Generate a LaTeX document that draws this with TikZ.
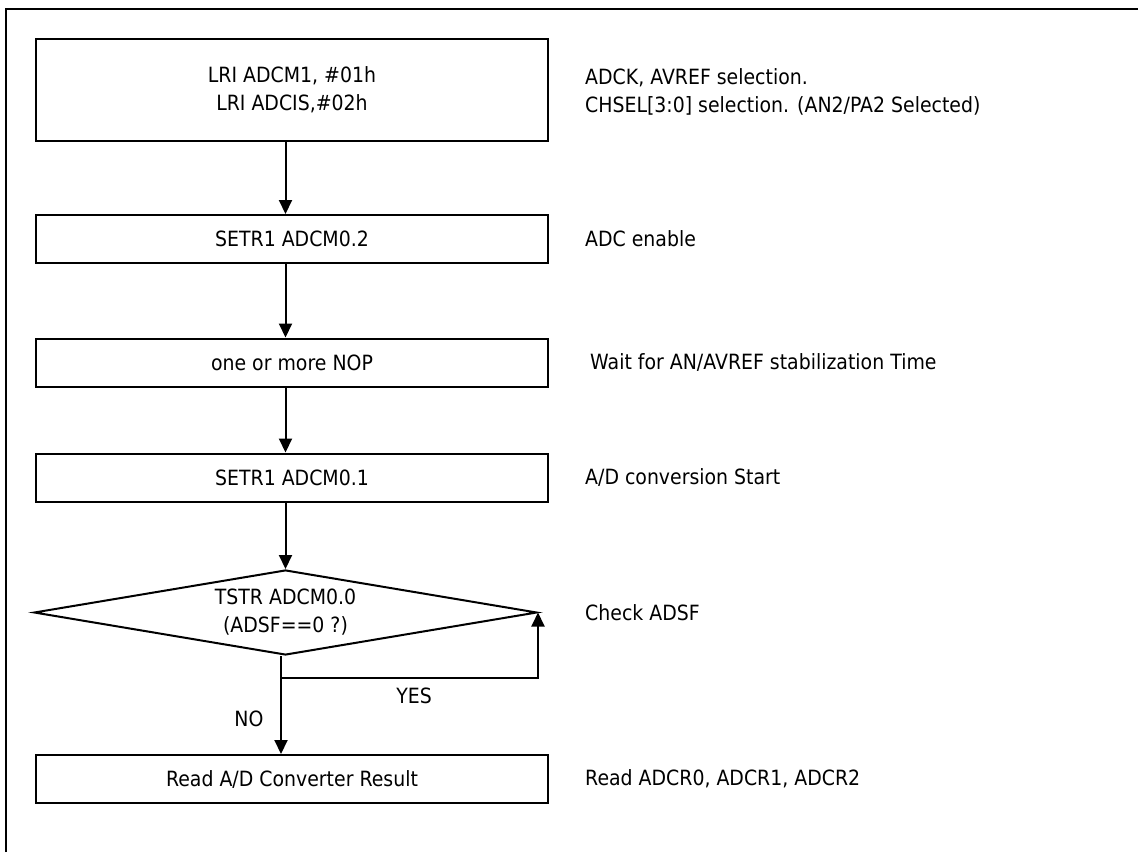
\documentclass[tikz,border=0pt]{standalone}
\usepackage{fontspec}
\setmainfont{DejaVu Sans}[FakeStretch=0.9]
\usetikzlibrary{arrows.meta,shapes.geometric}
\begin{document}
\begin{tikzpicture}[x=1pt,y=-1pt,
  every node/.style={font=\fontsize{21}{28}\selectfont},
  stepbox/.style={draw,line width=2pt,minimum width=512pt,minimum height=48pt,inner sep=0pt,align=center},
  note/.style={anchor=west,align=left,inner sep=0pt},
  arr/.style={line width=2pt,-{Triangle[length=14pt,width=13pt]}},
  lbl/.style={inner sep=0pt}]
\useasboundingbox (0,0) rectangle (1138,852);
% outer frame (clipped at right and bottom)
\coordinate (fr) at (6,9);
\draw[line width=2pt] (fr |- 0,852) -- (fr) -- (1138,9);
% boxes
\node[stepbox,minimum height=102pt] (b1) at (292,90) {LRI ADCM1, \#01h\\LRI ADCIS,\#02h};
\node[stepbox] (b2) at (292,239) {SETR1 ADCM0.2};
\node[stepbox] (b3) at (292,362.5) {one or more NOP};
\node[stepbox] (b4) at (292,477.5) {SETR1 ADCM0.1};
\node[draw,line width=2pt,diamond,aspect=5.9,minimum width=503pt,minimum height=85pt,inner sep=0pt,align=center] (d) at (285.5,612.5) {TSTR ADCM0.0\\(ADSF==0 ?)};
\node[stepbox] (b5) at (292,779) {Read A/D Converter Result};
% notes
\node[note] (n1) at (585,92) {ADCK, AVREF selection.\\CHSEL[3:0] selection. (AN2/PA2 Selected)};
\node[note] (n2) at (585,239) {ADC enable};
\node[note] (n3) at (590,362.5) {Wait for AN/AVREF stabilization Time};
\node[note] (n4) at (585,477.5) {A/D conversion Start};
\node[note] (n5) at (585,612.5) {Check ADSF};
\node[note] (n6) at (585,779) {Read ADCR0, ADCR1, ADCR2};
% connectors
\draw[arr] (b1.south -| d.north) -- (b2.north -| d.north);
\draw[arr] (b2.south -| d.north) -- (b3.north -| d.north);
\draw[arr] (b3.south -| d.north) -- (b4.north -| d.north);
\draw[arr] (b4.south -| d.north) -- (d.north);
\coordinate (split) at (281,678);
\draw[arr] (d.south -| split) -- (b5.north -| split);
\draw[arr] (split) -- (split -| d.east) -- (d.east);
\node[lbl] (yes) at (414,696) {YES};
\node[lbl] (no) at (249,719) {NO};
\end{tikzpicture}
\end{document}
